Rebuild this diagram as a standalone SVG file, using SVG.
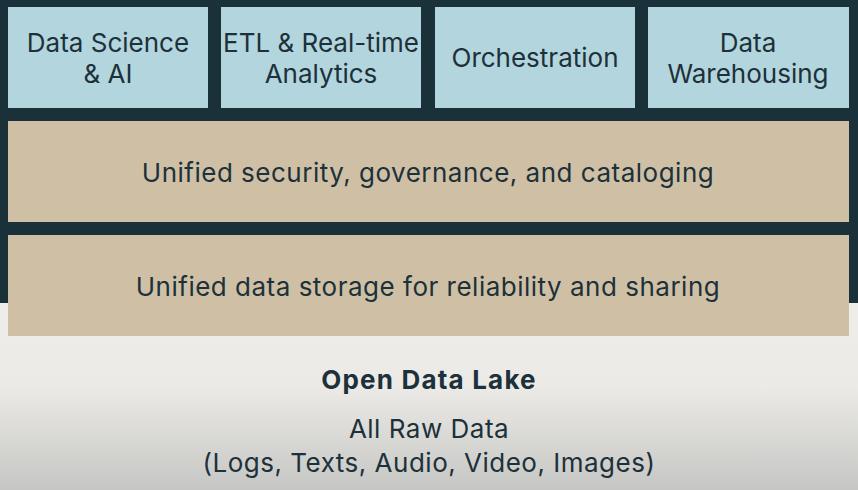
<svg xmlns="http://www.w3.org/2000/svg" width="858" height="490" viewBox="0 0 858 490">
<defs>
<linearGradient id="bg" x1="0" y1="0" x2="0" y2="1">
<stop offset="0" stop-color="#eeede9"/>
<stop offset="0.45" stop-color="#ebeae6"/>
<stop offset="1" stop-color="#c6c6c4"/>
</linearGradient>
<style>
.t{font-family:Inter,"Open Sans",sans-serif;font-size:26px;fill:#1c313a;text-anchor:middle}
.w{letter-spacing:0.5px}
.b{font-weight:bold;font-size:26px;letter-spacing:1.2px}
.blue{fill:#b3d5dd}
.tan{fill:#cfc0a5}
</style>
</defs>
<rect x="0" y="303" width="858" height="187" fill="url(#bg)"/>
<rect x="0" y="0" width="858" height="303" fill="#1b313a"/>
<g id="ds"><rect class="blue" x="8" y="7" width="200" height="101"/><text class="t" x="108" y="52">Data Science</text><text class="t" x="108" y="83">&amp; AI</text></g>
<g id="etl"><rect class="blue" x="221" y="7" width="200" height="101"/><text class="t" x="321" y="52">ETL &amp; Real-time</text><text class="t" x="321" y="83">Analytics</text></g>
<g id="orch"><rect class="blue" x="435" y="7" width="200" height="101"/><text class="t" x="535" y="67">Orchestration</text></g>
<g id="dw"><rect class="blue" x="648" y="7" width="201" height="101"/><text class="t" x="748" y="52">Data</text><text class="t" x="748" y="83">Warehousing</text></g>
<g id="gov"><rect class="tan" x="8" y="121" width="841" height="101"/><text class="t w" x="428" y="182">Unified security, governance, and cataloging</text></g>
<g id="storage"><rect class="tan" x="8" y="235" width="841" height="101"/><text class="t w" x="428" y="296">Unified data storage for reliability and sharing</text></g>
<g id="lake"><text class="t b" x="429" y="389">Open Data Lake</text><text class="t w" x="429" y="438">All Raw Data</text><text class="t w" x="429" y="472">(Logs, Texts, Audio, Video, Images)</text></g>
<g id="connectors"/>
</svg>
